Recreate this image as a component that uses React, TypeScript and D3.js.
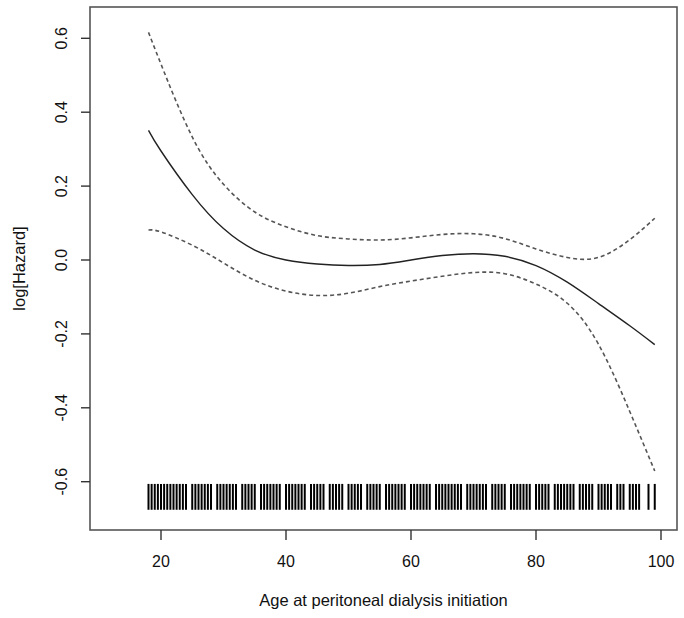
import React from "react";
import * as d3 from "d3";

// values
const ages = [18, 20, 25, 30, 35, 40, 45, 50, 55, 60, 65, 70, 75, 80, 85, 90, 95, 99];
const upper = [0.616, 0.53, 0.333, 0.205, 0.13, 0.09, 0.066, 0.057, 0.054, 0.06, 0.069, 0.071, 0.058, 0.03, 0.007, 0.007, 0.055, 0.113];
const fit = [0.351, 0.295, 0.177, 0.085, 0.027, 0.0, -0.011, -0.015, -0.012, 0.0, 0.012, 0.017, 0.01, -0.015, -0.06, -0.118, -0.178, -0.229];
const lower = [0.081, 0.076, 0.04, -0.008, -0.055, -0.084, -0.096, -0.09, -0.072, -0.057, -0.044, -0.034, -0.037, -0.065, -0.117, -0.228, -0.41, -0.571];

const rug = [
  18, 18.5, 19, 19.5, 20, 20.5, 21, 21.5, 22, 22.5, 23, 23.5, 24, 25, 25.5, 26, 26.5, 27, 27.5, 28,
  29, 29.5, 30, 30.5, 31, 31.5, 32, 33, 33.5, 34, 34.5, 35, 36, 36.5, 37, 37.5, 38, 38.5, 39, 40,
  40.5, 41, 41.5, 42, 42.5, 43, 44, 44.5, 45, 45.5, 46, 47, 47.5, 48, 48.5, 49, 50, 50.5, 51, 51.5,
  52, 53, 53.5, 54, 54.5, 55, 56, 56.5, 57, 57.5, 58, 58.5, 59, 60, 60.5, 61, 61.5, 62, 62.5, 63,
  64, 64.5, 65, 65.5, 66, 66.5, 67, 67.5, 68, 69, 69.5, 70, 70.5, 71, 71.5, 72, 73, 73.5, 74, 74.5,
  75, 76, 76.5, 77, 77.5, 78, 78.5, 79, 80, 80.5, 81, 81.5, 82, 83, 83.5, 84, 84.5, 85, 85.5, 86,
  87, 87.5, 88, 88.5, 89, 90, 90.5, 91, 91.5, 92, 93, 93.5, 94, 95, 95.5, 96, 96.5, 98, 99,
];

const xTicks = [20, 40, 60, 80, 100];
const yTicks = [0.6, 0.4, 0.2, 0.0, -0.2, -0.4, -0.6];

export default function App() {
  const width = 684;
  const height = 618;
  const box = { left: 90, right: 677, top: 7, bottom: 530 };
  const font = "Liberation Sans, Arial, Helvetica, sans-serif";

  const x = d3.scaleLinear().domain([20, 100]).range([161, 661]);
  const y = d3.scaleLinear().domain([0, 0.6]).range([260, 38.3]);

  const line = (vals: number[]) =>
    d3
      .line<number>()
      .x((d, i) => x(ages[i]))
      .y((d) => y(d))
      .curve(d3.curveNatural)(vals) || "";

  return (
    <svg
      width={width}
      height={height}
      style={{ position: "absolute", left: 0, top: 0, background: "#fff" }}
    >
      <rect
        x={box.left}
        y={box.top}
        width={box.right - box.left}
        height={box.bottom - box.top}
        fill="none"
        stroke="#555"
        strokeWidth={1.6}
      />

      {/* rug */}
      {rug.map((a, i) => (
        <line
          key={i}
          x1={x(a)}
          x2={x(a)}
          y1={y(-0.606)}
          y2={y(-0.676)}
          stroke="#000"
          strokeWidth={2}
        />
      ))}

      <path d={line(upper)} fill="none" stroke="#555" strokeWidth={1.6} strokeDasharray="4,3" />
      <path d={line(lower)} fill="none" stroke="#555" strokeWidth={1.6} strokeDasharray="4,3" />
      <path d={line(fit)} fill="none" stroke="#222" strokeWidth={1.4} />

      {/* x axis */}
      {xTicks.map((t) => (
        <g key={t}>
          <line x1={x(t)} x2={x(t)} y1={box.bottom} y2={box.bottom + 10} stroke="#333" strokeWidth={1.4} />
          <text x={x(t)} y={567} textAnchor="middle" fontSize={16} fontFamily={font} fill="#111">
            {t}
          </text>
        </g>
      ))}

      {/* y axis */}
      {yTicks.map((t) => (
        <g key={t}>
          <line x1={box.left - 9} x2={box.left} y1={y(t)} y2={y(t)} stroke="#333" strokeWidth={1.4} />
          <text
            transform={`translate(67,${y(t)}) rotate(-90)`}
            textAnchor="middle"
            fontSize={16}
            fontFamily={font}
            fill="#111"
          >
            {t.toFixed(1)}
          </text>
        </g>
      ))}

      <text x={(box.left + box.right) / 2} y={606} textAnchor="middle" fontSize={16.5} fontFamily={font} fill="#111">
        Age at peritoneal dialysis initiation
      </text>
      <text
        transform={`translate(25,${(box.top + box.bottom) / 2}) rotate(-90)`}
        textAnchor="middle"
        fontSize={16.5}
        fontFamily={font}
        fill="#111"
      >
        log[Hazard]
      </text>
    </svg>
  );
}
